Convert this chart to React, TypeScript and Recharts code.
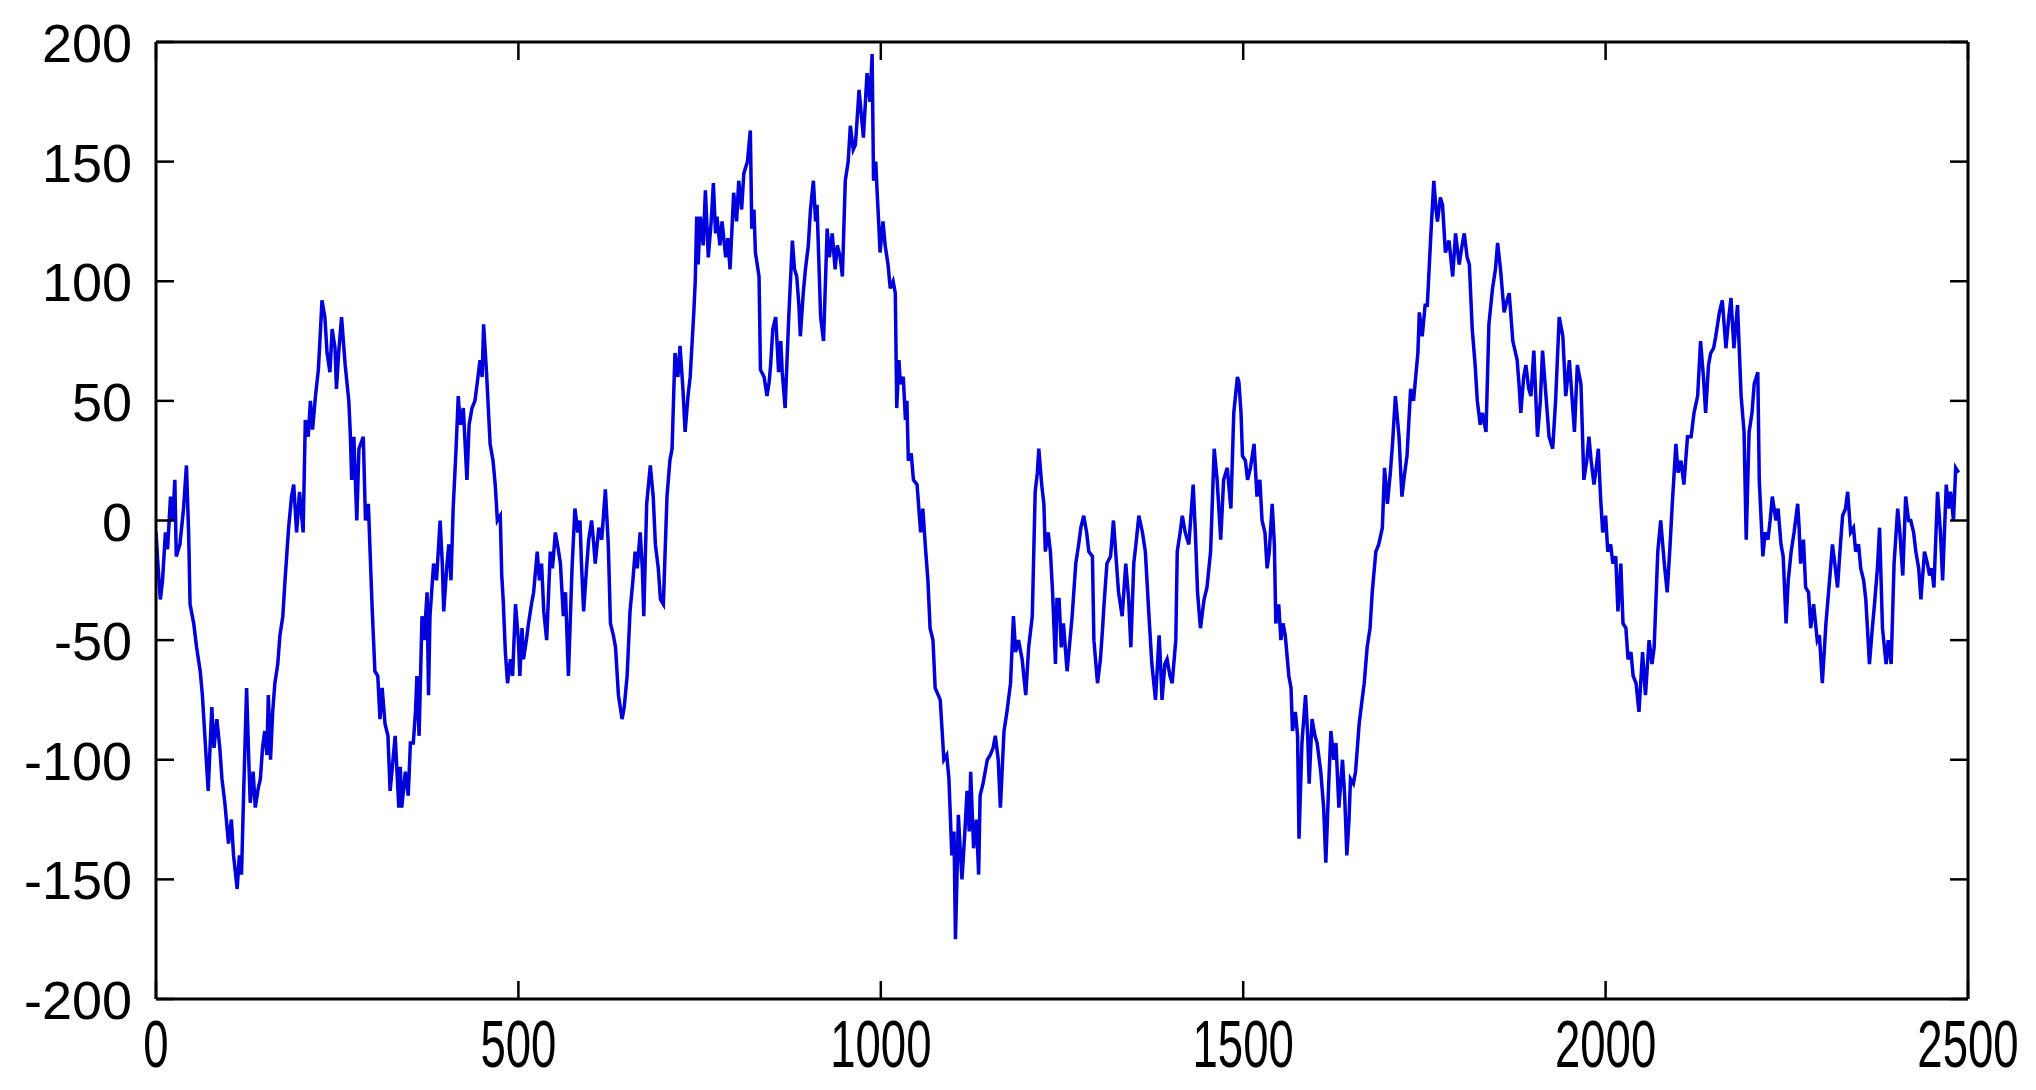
import React from "react";
import { LineChart, Line, XAxis, YAxis } from "recharts";

// Sample index (x) and random-walk value (y)
const xs: number[] = [
  0,3,6,9,13,16,20,23,26,28,33,38,42,45,47,52,56,61,64,68,72,77,80,84,88,91,95,100,104,107,112,115,118,121,125,128,130,134,137,141,144,147,150,153,155,158,161,164,168,171,175,178,183,187,190,194,198,203,206,210,213,216,220,224,227,229,233,236,240,243,247,249,252,
  256,261,266,268,270,273,277,280,286,289,293,298,302,306,309,312,316,320,323,327,330,335,337,339,344,348,351,355,358,360,363,367,370,374,376,378,383,387,392,395,397,401,404,407,410,414,417,420,424,429,432,436,440,443,447,450,452,456,461,465,468,471,475,477,479,482,485,489,492,496,500,
  502,505,507,511,514,518,521,526,529,532,535,539,544,547,551,555,558,562,565,569,574,578,582,585,587,590,594,597,601,604,606,611,615,620,624,627,631,634,638,643,646,650,654,658,661,664,668,671,673,677,682,686,689,693,696,700,705,709,712,716,720,723,727,730,734,737,742,744,
  746,748,751,755,758,762,766,769,772,774,778,781,786,789,792,797,801,804,808,811,816,820,822,825,827,832,834,839,843,846,848,851,855,859,862,864,868,873,878,881,884,887,889,893,896,900,903,907,910,912,917,921,926,929,933,937,940,944,947,951,955,958,962,965,970,973,976,981,985,988,990,993,
  995,997,999,1003,1006,1010,1013,1017,1020,1022,1025,1027,1031,1034,1036,1038,1042,1045,1050,1055,1058,1062,1065,1068,1072,1075,1082,1087,1091,1094,1098,1101,1103,1105,1107,1110,1112,1116,1119,1122,1124,1128,1132,1135,1137,1141,1144,1147,1151,1155,1158,1162,1165,1170,1174,1179,1183,1186,1190,1195,1200,1204,1209,1213,1216,1218,1222,1225,1227,1231,1234,1237,1239,1241,
  1243,1246,1249,1252,1257,1261,1264,1269,1273,1276,1280,1284,1287,1292,1294,1299,1303,1306,1308,1312,1317,1321,1324,1328,1333,1338,1342,1345,1349,1352,1356,1361,1365,1370,1374,1379,1384,1386,1388,1392,1395,1399,1402,1407,1409,1413,1416,1420,1425,1431,1434,1437,1441,1446,1450,1455,1460,1464,1469,1473,1478,1483,1487,1492,
  1494,1497,1499,1503,1506,1510,1515,1519,1523,1526,1530,1533,1536,1540,1543,1545,1549,1552,1555,1558,1563,1566,1568,1572,1575,1577,1581,1586,1589,1591,1595,1599,1602,1607,1611,1614,1618,1621,1625,1628,1632,1637,1640,1643,1646,1648,1652,1655,1660,1664,1667,1671,1675,1678,1683,1687,1692,1695,1699,1703,1706,1710,1715,1719,1722,1726,1731,1735,1738,
  1741,1743,1747,1751,1754,1759,1763,1766,1768,1772,1775,1779,1784,1789,1793,1798,1802,1805,1809,1812,1816,1820,1823,1827,1830,1835,1839,1844,1848,1851,1855,1860,1864,1867,1872,1878,1881,1883,1887,1890,1894,1897,1901,1906,1910,1913,1917,1922,1927,1931,1936,1941,1945,1950,1954,1957,1961,1966,1970,1974,1977,1980,1984,
  1987,1990,1993,1996,2000,2003,2007,2010,2014,2017,2021,2024,2028,2031,2035,2038,2042,2046,2051,2055,2060,2064,2067,2072,2076,2081,2085,2089,2092,2097,2100,2104,2108,2113,2118,2122,2127,2131,2135,2138,2142,2145,2149,2152,2157,2161,2166,2170,2173,2177,2182,2187,2191,2194,2198,2202,2205,2210,2212,2217,2220,2224,2227,2230,2235,
  2238,2242,2245,2249,2252,2256,2260,2265,2267,2269,2273,2276,2280,2283,2287,2292,2295,2299,2304,2309,2313,2317,2320,2324,2327,2331,2334,2338,2342,2345,2349,2352,2356,2359,2364,2368,2371,2375,2378,2382,2387,2390,2394,2398,2403,2406,2410,2414,2418,2421,2425,2428,2432,2435,2440,2444,2447,2450,2453,2458,2462,2465,2470,2473,2476,2480,2483,2487,
];

const ys: number[] = [
  -5,-20,-33,-25,-5,-12,10,0,17,-15,-10,5,23,-5,-35,-43,-53,-63,-73,-93,-113,-78,-95,-83,-95,-108,-118,-135,-125,-140,-154,-140,-148,-113,-70,-100,-118,-105,-120,-112,-108,-95,-88,-98,-73,-100,-80,-68,-60,-48,-40,-25,-3,10,15,-5,12,-5,42,35,50,38,52,63,80,92,85,70,62,80,72,55,70,
  85,65,50,37,17,35,0,30,35,0,7,-35,-63,-65,-83,-70,-85,-90,-113,-100,-90,-120,-103,-120,-105,-115,-93,-93,-80,-65,-90,-40,-50,-30,-73,-40,-18,-25,0,-18,-38,-20,-10,-25,5,30,52,40,47,17,40,47,50,57,67,60,82,62,32,25,15,0,2,-23,-33,-55,-68,-58,-65,-35,-50,
  -65,-45,-58,-50,-43,-35,-30,-13,-25,-18,-38,-50,-13,-20,-5,-12,-18,-40,-30,-65,-20,5,-5,0,-18,-38,-20,-8,0,-10,-18,-3,-8,13,-10,-43,-48,-53,-73,-83,-78,-65,-38,-25,-13,-20,-5,-20,-40,7,23,10,-10,-20,-33,-35,10,25,30,70,60,73,55,37,52,60,87,100,
  127,107,127,115,138,110,125,141,120,127,115,125,110,118,105,137,125,142,130,145,150,163,122,130,112,102,63,60,52,58,65,80,85,62,75,62,47,85,117,105,102,90,77,95,105,115,130,142,125,132,85,75,122,110,120,105,115,110,102,142,150,165,155,157,180,170,160,187,175,195,142,150,
  137,125,112,125,115,107,97,100,95,47,67,57,60,42,50,25,28,17,15,-5,5,-13,-25,-45,-50,-70,-75,-100,-98,-108,-140,-130,-175,-150,-123,-140,-150,-130,-113,-130,-105,-137,-125,-148,-115,-110,-105,-100,-98,-95,-90,-100,-120,-88,-80,-68,-40,-55,-50,-58,-73,-53,-40,12,20,30,15,7,-13,-5,-13,-30,-45,-60,
  -33,-33,-53,-43,-63,-50,-40,-18,-10,-3,2,-5,-13,-15,-50,-68,-58,-45,-35,-18,-15,0,-13,-30,-40,-18,-33,-53,-18,-10,2,-5,-13,-40,-60,-75,-48,-60,-75,-60,-58,-65,-68,-50,-13,-5,2,-5,-10,15,-5,-30,-45,-33,-28,-13,30,17,-8,17,22,5,45,60,
  58,45,27,25,17,22,32,10,17,0,-5,-20,-13,7,-10,-43,-35,-50,-43,-48,-65,-70,-88,-80,-90,-133,-93,-73,-90,-110,-83,-90,-93,-105,-120,-143,-110,-88,-100,-93,-120,-100,-115,-140,-125,-108,-110,-105,-85,-75,-68,-53,-45,-30,-13,-10,-3,22,7,20,32,52,35,10,18,27,55,50,60,
  70,87,77,90,90,120,142,130,125,135,132,112,117,102,120,107,115,120,110,107,80,65,50,40,45,37,82,97,105,116,105,87,92,95,75,67,55,45,60,65,55,52,71,35,50,71,55,35,30,50,85,77,52,67,50,37,65,57,17,25,35,25,15,
  22,30,10,-5,2,-13,-10,-18,-15,-38,-18,-43,-45,-58,-55,-65,-68,-80,-55,-73,-50,-60,-53,-13,0,-18,-30,-10,7,32,20,25,15,35,35,45,52,75,60,45,65,70,72,77,87,92,72,85,93,72,90,52,37,-8,37,45,57,62,17,-15,-5,-8,0,10,0,
  5,-10,-15,-43,-25,-13,-5,7,-3,-18,-8,-28,-30,-45,-35,-50,-48,-68,-43,-25,-10,-20,-28,-10,2,5,12,-5,-3,-13,-10,-20,-25,-33,-60,-45,-35,-20,-3,-45,-60,-50,-60,-18,5,-5,-23,10,0,0,-5,-13,-20,-33,-13,-18,-23,-20,-28,12,-5,-25,15,5,12,0,22,20,
];

const xTicks: number[] = [0, 500, 1000, 1500, 2000, 2500];
const yTicks: number[] = [-200, -150, -100, -50, 0, 50, 100, 150, 200];

const data = xs.map((x, i) => ({ x, y: ys[i] }));

const FONT = "'Liberation Sans', Arial, Helvetica, sans-serif";
const TICK_LEN = 18;
const TICK_W = 2.5;

const BottomTick = (props: any) => {
  const { x, y, payload } = props;
  return (
    <g>
      <line x1={x} y1={y} x2={x} y2={y - TICK_LEN} stroke="#000" strokeWidth={TICK_W} />
      <text
        transform={`translate(${x},${y + 68}) scale(0.68,1)`}
        textAnchor="middle"
        fontFamily={FONT}
        fontSize={67}
        fill="#000"
      >
        {payload.value}
      </text>
    </g>
  );
};

const LeftTick = (props: any) => {
  const { x, y, payload } = props;
  return (
    <g>
      <text x={x - 24} y={y + 20} textAnchor="end" fontFamily={FONT} fontSize={54} fill="#000">
        {payload.value}
      </text>
    </g>
  );
};

// inward-pointing tick marks on the left frame edge (mirrored axis)
const LeftInnerTick = (props: any) => {
  const { x, y } = props;
  return <line x1={x} y1={y} x2={x + TICK_LEN} y2={y} stroke="#000" strokeWidth={TICK_W} />;
};

const TopTick = (props: any) => {
  const { x, y } = props;
  return <line x1={x} y1={y} x2={x} y2={y + TICK_LEN} stroke="#000" strokeWidth={TICK_W} />;
};

const RightTick = (props: any) => {
  const { x, y } = props;
  return <line x1={x} y1={y} x2={x - TICK_LEN} y2={y} stroke="#000" strokeWidth={TICK_W} />;
};

export default function App() {
  return (
    <div style={{ position: "absolute", left: 0, top: 0, width: 2036, height: 1090, background: "#fff" }}>
      <LineChart width={2036} height={1090} data={data} margin={{ top: 42, right: 68, bottom: 0, left: 0 }}>
        <XAxis
          dataKey="x"
          type="number"
          domain={[0, 2500]}
          ticks={xTicks}
          interval={0}
          height={91}
          tickSize={0}
          tickMargin={0}
          tickLine={false}
          axisLine={{ stroke: "#000", strokeWidth: 3 }}
          tick={<BottomTick />}
          allowDataOverflow
        />
        <XAxis
          xAxisId="top"
          orientation="top"
          dataKey="x"
          type="number"
          domain={[0, 2500]}
          ticks={xTicks}
          interval={0}
          height={1}
          mirror
          tickSize={0}
          tickMargin={0}
          tickLine={false}
          axisLine={{ stroke: "#000", strokeWidth: 3 }}
          tick={<TopTick />}
          allowDataOverflow
        />
        <YAxis
          type="number"
          domain={[-200, 200]}
          ticks={yTicks}
          interval={0}
          width={156}
          tickSize={0}
          tickMargin={0}
          tickLine={false}
          axisLine={{ stroke: "#000", strokeWidth: 3 }}
          tick={<LeftTick />}
          allowDataOverflow
        />
        <YAxis
          yAxisId="leftInner"
          orientation="left"
          type="number"
          domain={[-200, 200]}
          ticks={yTicks}
          interval={0}
          width={1}
          mirror
          tickSize={0}
          tickMargin={0}
          tickLine={false}
          axisLine={false}
          tick={<LeftInnerTick />}
          allowDataOverflow
        />
        <YAxis
          yAxisId="right"
          orientation="right"
          type="number"
          domain={[-200, 200]}
          ticks={yTicks}
          interval={0}
          width={1}
          mirror
          tickSize={0}
          tickMargin={0}
          tickLine={false}
          axisLine={{ stroke: "#000", strokeWidth: 3 }}
          tick={<RightTick />}
          allowDataOverflow
        />
        <Line
          dataKey="y"
          type="linear"
          stroke="#0000dc"
          strokeWidth={3.5}
          dot={false}
          activeDot={false}
          isAnimationActive={false}
        />
      </LineChart>
    </div>
  );
}
